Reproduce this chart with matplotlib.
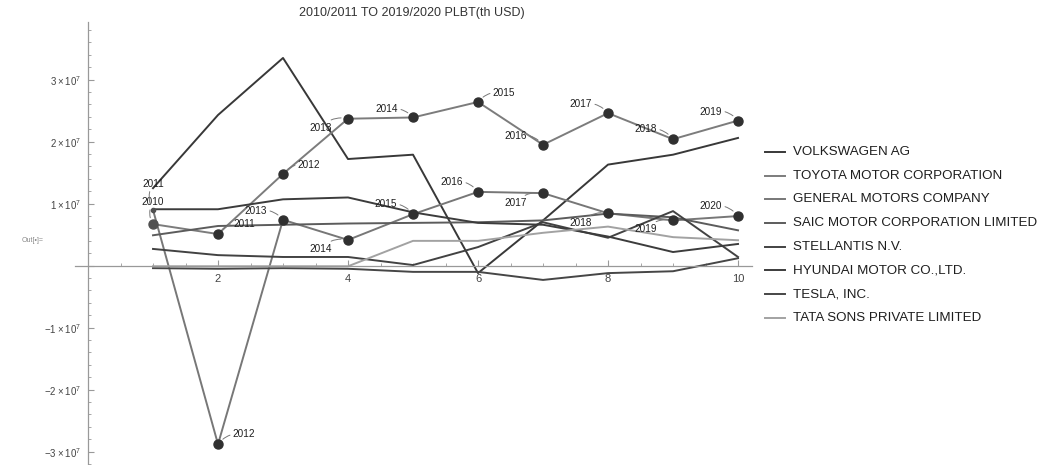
import matplotlib
matplotlib.use("Agg")
import matplotlib.pyplot as plt
from matplotlib.lines import Line2D
from matplotlib.ticker import MultipleLocator, FixedLocator, FixedFormatter

plt.rcParams['font.family'] = ['Liberation Sans', 'DejaVu Sans']
plt.rcParams['mathtext.fontset'] = 'custom'
plt.rcParams['mathtext.rm'] = 'Liberation Sans'

# x = 1..10 -> 2010/2011 .. 2019/2020, values in millions of th USD
periods = [1, 2, 3, 4, 5, 6, 7, 8, 9, 10]
vw = [12.5, 24.3, 33.5, 17.2, 17.9, -1.2, 7.3, 16.3, 17.9, 20.6]
toyota = [6.7, 5.1, 14.8, 23.7, 23.9, 26.4, 19.5, 24.6, 20.4, 23.4]
gm = [9.0, -28.8, 7.4, 4.15, 8.3, 11.9, 11.7, 8.45, 7.3, 8.0]
saic = [4.9, 6.4, 6.6, 6.8, 6.9, 7.0, 7.3, 8.4, 7.8, 5.7]
stellantis = [2.7, 1.7, 1.4, 1.4, 0.1, 3.0, 7.0, 4.5, 8.8, 1.4]
hyundai = [9.1, 9.1, 10.7, 11.0, 8.6, 6.9, 6.6, 4.7, 2.2, 3.5]
tesla = [-0.4, -0.5, -0.4, -0.5, -1.0, -1.0, -2.3, -1.2, -0.9, 1.2]
tata = [-0.1, -0.1, -0.1, -0.1, 4.0, 4.0, 5.3, 6.3, 4.6, 4.1]

toyota_years = ['2010', '2011', '2012', '2013', '2014', '2015', '2016', '2017', '2018', '2019']
gm_years = ['2011', '2012', '2013', '2014', '2015', '2016', '2017', '2018', '2019', '2020']

names = ['VOLKSWAGEN AG', 'TOYOTA MOTOR CORPORATION', 'GENERAL MOTORS COMPANY',
         'SAIC MOTOR CORPORATION LIMITED', 'STELLANTIS N.V.', 'HYUNDAI MOTOR CO.,LTD.',
         'TESLA, INC.', 'TATA SONS PRIVATE LIMITED']
series = [vw, toyota, gm, saic, stellantis, hyundai, tesla, tata]
colors = ['#383838', '#7c7c7c', '#777777', '#5c5c5c', '#424242', '#3c3c3c', '#464646', '#a2a2a2']

# callout offsets in pixels (label centre relative to point)
toyota_off = [(0, 22), (26, 10), (26, 9), (-27, -9), (-26, 8), (26, 9), (-27, 9), (-27, 9), (-27, 10), (-27, 9)]
gm_off = [(0, 26), (26, 10), (-27, 9), (-27, -9), (-27, 10), (-26, 10), (-27, -10), (-27, -10), (-27, -9), (-27, 10)]

W, H = 1041, 465
fig = plt.figure(figsize=(W / 100, H / 100), dpi=100)
ax = fig.add_axes([75 / W, 0, (752 - 75) / W, (465 - 22) / H])

for vals, col in zip(series, colors):
    ax.plot(periods, [v * 1e6 for v in vals], color=col, lw=1.4, zorder=2)

for vals, labels, offs, first_ms in [(toyota, toyota_years, toyota_off, 6.5), (gm, gm_years, gm_off, 3)]:
    ys = [v * 1e6 for v in vals]
    ax.plot(periods[1:], ys[1:], 'o', color='#303030', ms=6.5, zorder=3)
    ax.plot(periods[:1], ys[:1], 'o', color='#505050', ms=first_ms, zorder=3)
    for x, y, lab, (dx, dy) in zip(periods, ys, labels, offs):
        rad = -0.3 if dx < 0 else 0.3
        ax.annotate(lab, (x, y), xytext=(dx, dy), textcoords='offset pixels',
                    ha='center', va='center', fontsize=7.2, color='#1e1e1e',
                    arrowprops=dict(arrowstyle='-', color='#777777', lw=0.7,
                                    shrinkA=0, shrinkB=5,
                                    connectionstyle='arc3,rad=%s' % rad),
                    zorder=4)

ax.set_xlim(-0.2, 10.215)
ax.set_ylim(-3.215e7, 3.93e7)
for s in ['top', 'right']:
    ax.spines[s].set_visible(False)
ax.spines['left'].set_position(('data', 0))
ax.spines['bottom'].set_position(('data', 0))
for s in ['left', 'bottom']:
    ax.spines[s].set_color('#999999')
    ax.spines[s].set_linewidth(0.9)

ax.set_xticks([2, 4, 6, 8, 10])
ax.xaxis.set_minor_locator(MultipleLocator(0.5))
yt = [-3e7, -2e7, -1e7, 0, 1e7, 2e7, 3e7]
ax.yaxis.set_major_locator(FixedLocator(yt))
ax.yaxis.set_major_formatter(FixedFormatter(
    [r'$\mathregular{-3\times10^{7}}$', r'$\mathregular{-2\times10^{7}}$', r'$\mathregular{-1\times10^{7}}$', '',
     r'$\mathregular{1\times10^{7}}$', r'$\mathregular{2\times10^{7}}$', r'$\mathregular{3\times10^{7}}$']))
ax.yaxis.set_minor_locator(MultipleLocator(2e6))
ax.tick_params(which='both', direction='in', color='#999999', labelcolor='#444444')
ax.tick_params(axis='x', which='major', length=4, pad=6, labelsize=8)
ax.tick_params(axis='x', which='minor', length=2)
ax.tick_params(axis='y', which='major', length=4, pad=5, labelsize=7)
ax.tick_params(axis='y', which='minor', length=2)

fig.text(412 / W, 1 - 13 / H, '2010/2011 TO 2019/2020 PLBT(th USD)', ha='center', va='center',
         fontsize=9, color='#333333')
fig.text(22 / W, 1 - 240 / H, 'Out[•]=', ha='left', va='center', fontsize=5, color='#888888')

# legend drawn row by row
for i, (name, col) in enumerate(zip(names, colors)):
    yy = 1 - (152 + i * 23.7) / H
    fig.add_artist(Line2D([765 / W, 785 / W], [yy, yy], color=col, lw=1.4))
    fig.text(793 / W, yy, name, ha='left', va='center', fontsize=9.6, color='#1e1e1e')

fig.savefig('out.png', dpi=100)
